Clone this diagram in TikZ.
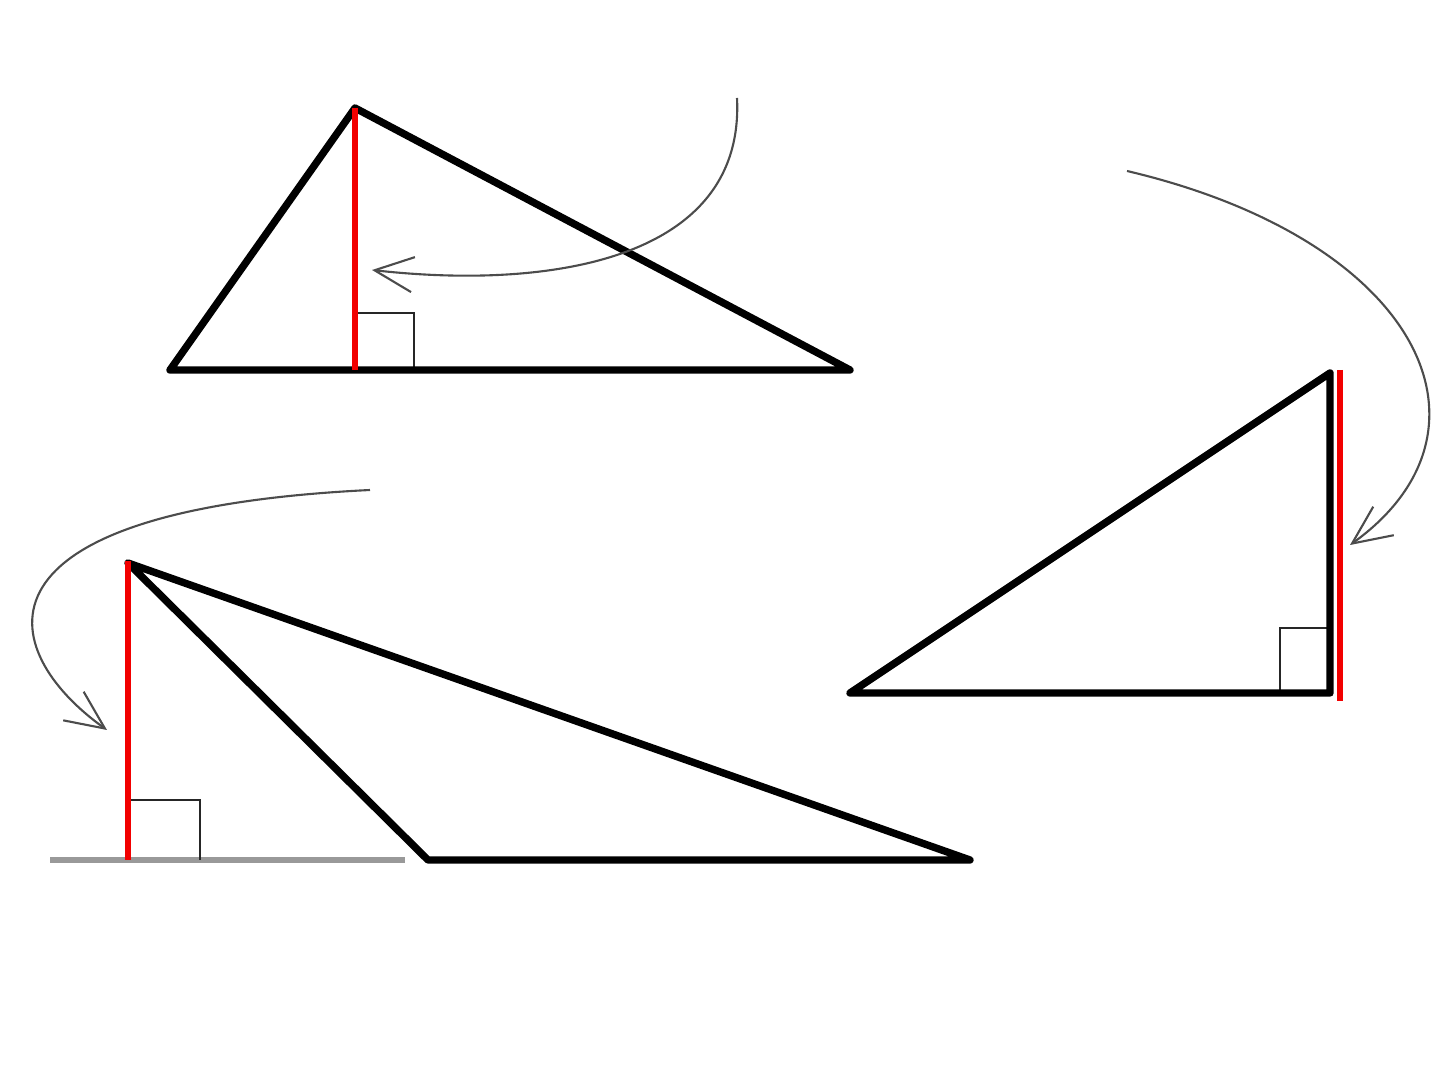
\documentclass[tikz,border=0pt]{standalone}
\usetikzlibrary{arrows.meta}
\begin{document}
\begin{tikzpicture}[x=0.01cm,y=-0.01cm,
  thick line/.style={line width=2.1pt,black,line join=round},
  red line/.style={line width=1.7pt,red!95!black},
  gray line/.style={line width=1.7pt,gray!80},
  square mark/.style={line width=0.6pt,black!85},
  turn arrow/.style={line width=0.6pt,black!70,-{Straight Barb[length=11pt,width=10pt,line width=0.6pt]}}]
\useasboundingbox (0,0) rectangle (1440,1080);
% Triangle 1
\coordinate (a1) at (170,370);
\coordinate (b1) at (355,108);
\coordinate (c1) at (850,370);
\coordinate (h1) at (355,370);
\draw[square mark] (355,313) -- (414,313) -- (414,370);
\draw[thick line] (a1) -- (b1) -- (c1) -- cycle;
\draw[red line] (b1) -- (h1);
\draw[turn arrow] (737,98) .. controls (745,260) and (550,290) .. (372,270);
% Triangle 2
\coordinate (a2) at (850,693);
\coordinate (b2) at (1330,373);
\coordinate (c2) at (1330,693);
\draw[square mark] (1280,693) -- (1280,628) -- (1330,628);
\draw[thick line] (a2) -- (b2) -- (c2) -- cycle;
\draw[red line] (1340,370) -- (1340,701);
\draw[turn arrow] (1127,171) .. controls (1420,240) and (1510,430) .. (1350,545);
% Triangle 3
\coordinate (a3) at (128,563);
\coordinate (b3) at (428,860);
\coordinate (c3) at (970,860);
\draw[gray line] (50,860) -- (405,860);
\draw[square mark] (128,800) -- (200,800) -- (200,860);
\draw[thick line] (a3) -- (b3) -- (c3) -- cycle;
\draw[red line] (128,561) -- (128,860);
\draw[turn arrow] (370,490) .. controls (-40,510) and (-5,650) .. (107,730);
\end{tikzpicture}
\end{document}
